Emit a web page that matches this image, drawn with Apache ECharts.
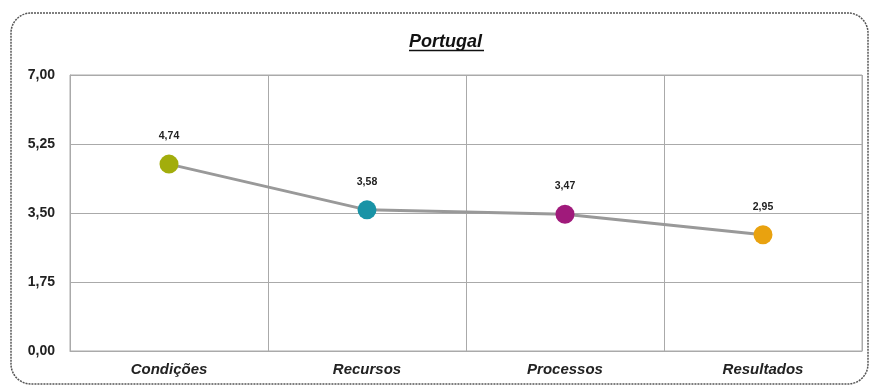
<!DOCTYPE html>
<html>
	<head>
		<meta charset="utf-8">
		<title>Portugal</title>
		<style>
			html, body { margin: 0; padding: 0; background: #ffffff; }
		</style>
	</head>
	<body>
		<div id="portugalChart" style="width:873px;height:389px;"></div>

		<script src="https://cdn.jsdelivr.net/npm/echarts@6/dist/echarts.min.js"></script>
		<script>
			var categorias = ['Condições', 'Recursos', 'Processos', 'Resultados'];
			var valores = [4.74, 3.58, 3.47, 2.95];
			var cores = ['#a2ad0c', '#1993a6', '#a01a7b', '#e9a20f'];
			var yMin = 0, yMax = 7, yIntervalo = 1.75;

			var chart = echarts.init(document.getElementById('portugalChart'));

			var pontos = [];
			for (var i = 0; i < valores.length; i++) {
				pontos.push({
					value: valores[i],
					itemStyle: { color: cores[i] }
				});
			}

			var option = {
				backgroundColor: '#ffffff',
				animation: false,
				title: {
					text: 'Portugal',
					left: 404,
					top: 28,
					textStyle: {
						fontFamily: 'Liberation Sans',
						fontSize: 18,
						fontWeight: 'bold',
						fontStyle: 'italic',
						color: '#111'
					}
				},
				graphic: [{
					type: 'rect',
					shape: { x: 11, y: 13, width: 857, height: 371, r: 20 },
					style: { fill: 'none', stroke: '#555', lineWidth: 1.5, lineDash: [2, 1] }
				}, {
					// sublinhado do titulo
					type: 'line',
					shape: { x1: 409, y1: 50.5, x2: 484, y2: 50.5 },
					style: { stroke: '#111', lineWidth: 1.5 }
				}],
				grid: {
					left: 70,
					right: 11,
					top: 75,
					bottom: 38,
					show: true,
					borderColor: '#aaa',
					borderWidth: 1
				},
				xAxis: {
					type: 'category',
					data: categorias,
					boundaryGap: true,
					axisLine: { show: true, lineStyle: { color: '#aaa' } },
					axisTick: { show: false },
					splitLine: { show: true, lineStyle: { color: '#aaa', width: 1 } },
					axisLabel: {
						margin: 11,
						fontFamily: 'Liberation Sans',
						fontSize: 15,
						fontWeight: 'bold',
						fontStyle: 'italic',
						color: '#222'
					}
				},
				yAxis: {
					type: 'value',
					min: yMin,
					max: yMax,
					interval: yIntervalo,
					axisLine: { show: true, lineStyle: { color: '#aaa' } },
					axisTick: { show: false },
					splitLine: { show: true, lineStyle: { color: '#aaa', width: 1 } },
					axisLabel: {
						margin: 15,
						fontFamily: 'Liberation Sans',
						fontSize: 14,
						fontWeight: 'bold',
						color: '#222',
						formatter: function (v) { return v.toFixed(2).replace('.', ','); }
					}
				},
				series: [{
					type: 'line',
					data: pontos,
					symbol: 'circle',
					symbolSize: 19,
					lineStyle: { color: '#999', width: 3 },
					label: {
						show: true,
						position: 'top',
						distance: 13,
						fontFamily: 'Liberation Sans',
						fontSize: 10.5,
						fontWeight: 'bold',
						color: '#222',
						formatter: function (p) { return p.value.toFixed(2).replace('.', ','); }
					}
				}]
			};

			chart.setOption(option);
		</script>
	</body>
</html>
